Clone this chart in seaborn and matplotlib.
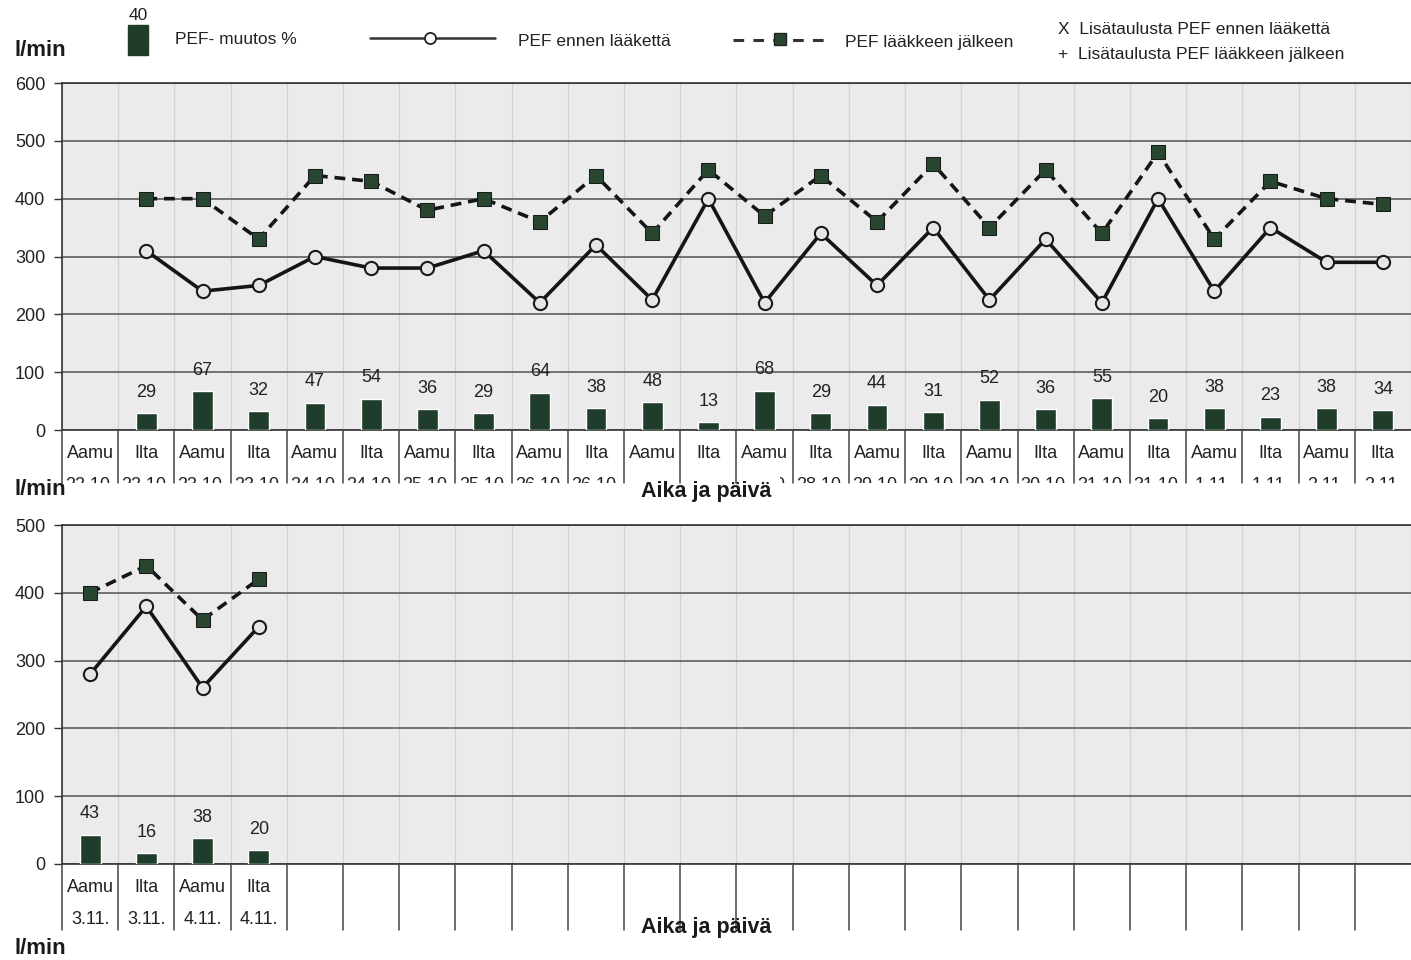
import numpy as np
import pandas as pd
import matplotlib
matplotlib.use('Agg')
import matplotlib.pyplot as plt
import matplotlib.transforms as mtransforms
from matplotlib.lines import Line2D
from matplotlib.patches import Rectangle
import seaborn as sns

# --- data ---
slot_names = ['Aamu', 'Ilta'] * 12

dates_1 = ['22.10.', '22.10.', '23.10.', '23.10.', '24.10.', '24.10.', '25.10.', '25.10.',
           '26.10.', '26.10.', '27.10.', '27.10.', '28.10.', '28.10.', '29.10.', '29.10.',
           '30.10.', '30.10.', '31.10.', '31.10.', '1.11.', '1.11.', '2.11.', '2.11.']
pef_ennen_1 = [np.nan, 310, 240, 250, 300, 280, 280, 310, 220, 320, 225, 400,
               220, 340, 250, 350, 225, 330, 220, 400, 240, 350, 290, 290]
pef_jalkeen_1 = [np.nan, 400, 400, 330, 440, 430, 380, 400, 360, 440, 340, 450,
                 370, 440, 360, 460, 350, 450, 340, 480, 330, 430, 400, 390]
muutos_1 = [np.nan, 29, 67, 32, 47, 54, 36, 29, 64, 38, 48, 13,
            68, 29, 44, 31, 52, 36, 55, 20, 38, 23, 38, 34]

dates_2 = ['3.11.', '3.11.', '4.11.', '4.11.']
pef_ennen_2 = [280, 380, 260, 350]
pef_jalkeen_2 = [400, 440, 360, 420]
muutos_2 = [43, 16, 38, 20]

N_SLOTS = 24
BAR_C = '#1f3d2a'
LINE_C = '#151515'

sns.set_theme(style='white')
plt.rcParams['font.family'] = ['Liberation Sans', 'DejaVu Sans']

W, H = 1411, 960
fig = plt.figure(figsize=(W / 100, H / 100), dpi=100)


def fx(x):
    return x / W


def fy(y):
    return 1 - y / H


def draw_panel(ax, ennen, jalkeen, muutos, dates, ymax, y_bottom, n_labels, date_clip=None):
    n = len(ennen)
    df = pd.DataFrame({'slot': np.arange(n), 'ennen': ennen,
                       'jalkeen': jalkeen, 'muutos': muutos})
    bars = df.dropna(subset=['muutos'])
    sns.barplot(data=bars, x='slot', y='muutos', order=list(range(N_SLOTS)),
                color=BAR_C, saturation=1, width=0.37, ax=ax, zorder=3)
    ax.bar_label(ax.containers[0], fmt='%d', padding=9, fontsize=13, color='#222')

    ln = df.dropna(subset=['ennen'])
    sns.lineplot(data=ln, x='slot', y='jalkeen', ax=ax, color=LINE_C, lw=2.6,
                 linestyle=(0, (3.0, 1.9)), marker='s', markersize=9.5,
                 markerfacecolor='#27452f', markeredgecolor='#1a1a1a', zorder=4)
    sns.lineplot(data=ln, x='slot', y='ennen', ax=ax, color=LINE_C, lw=2.6,
                 marker='o', markersize=9.5, markerfacecolor='#e6e6e6',
                 markeredgecolor='#1a1a1a', markeredgewidth=1.5, zorder=5)

    ax.set_xlim(-0.5, N_SLOTS - 0.5)
    ax.set_ylim(0, ymax)
    ax.set_yticks(np.arange(0, ymax + 1, 100))
    ax.set_xticks([])
    ax.set_xticks(np.arange(N_SLOTS + 1) - 0.5, minor=True)
    ax.set_xlabel('')
    ax.set_ylabel('')
    ax.set_facecolor('#ebebeb')
    ax.yaxis.grid(True, color='#5e5e5e', lw=1.2, zorder=1)
    ax.xaxis.grid(True, which='minor', color='#d2d2d2', lw=0.9, zorder=1)
    ax.set_axisbelow(True)
    ax.tick_params(axis='y', which='major', left=True, length=6, width=1,
                   color='#333', labelsize=13, labelcolor='#222', pad=6)
    ax.tick_params(axis='x', which='both', bottom=False, length=0)
    ax.spines['right'].set_visible(False)
    for s in ['left', 'top', 'bottom']:
        ax.spines[s].set_color('#333')
        ax.spines[s].set_linewidth(1.2)

    trans = mtransforms.blended_transform_factory(ax.transData, fig.transFigure)
    line_end = y_bottom + (53 if date_clip else 66)
    for i in range(N_SLOTS):
        fig.add_artist(Line2D([i - 0.5, i - 0.5], [fy(y_bottom), fy(line_end)],
                              transform=trans, color='#444', lw=1.1))
    for i in range(n_labels):
        fig.text(i, fy(y_bottom + 23), slot_names[i], transform=trans,
                 ha='center', va='center', fontsize=13, color='#222')
    for i, d in enumerate(dates):
        if date_clip and i in (10, 11):
            continue  # under the axis title, not visible on the form
        t = fig.text(i, fy(y_bottom + 56), d, transform=trans,
                     ha='center', va='center', fontsize=13, color='#222')
        if date_clip:
            x0 = fx(780) if i == 12 else 0
            box = mtransforms.TransformedBbox(
                mtransforms.Bbox([[x0, fy(date_clip)], [1, fy(y_bottom)]]), fig.transFigure)
            t.set_clip_box(box)
            t.set_clip_on(True)


ax1 = fig.add_axes([fx(62), fy(430), fx(1411) - fx(62), fy(83) - fy(430)])
draw_panel(ax1, pef_ennen_1, pef_jalkeen_1, muutos_1, dates_1, 600, 430, N_SLOTS, date_clip=483)

ax2 = fig.add_axes([fx(62), fy(864), fx(1411) - fx(62), fy(525) - fy(864)])
draw_panel(ax2, pef_ennen_2, pef_jalkeen_2, muutos_2, dates_2, 500, 864, len(dates_2))

# axis titles
for y in (50, 490, 948):
    fig.text(fx(15), fy(y), 'l/min', ha='left', va='center', fontsize=16,
             fontweight='bold', color='#1a1a1a')
for y in (492, 928):
    fig.text(fx(706), fy(y), 'Aika ja päivä', ha='center', va='center', fontsize=15.5,
             fontweight='bold', color='#1a1a1a')

# legend (hand placed like the form)
fig.add_artist(Rectangle((fx(128), fy(55)), fx(148) - fx(128), fy(25) - fy(55),
                         transform=fig.transFigure, color=BAR_C))
fig.text(fx(138), fy(16), '40', ha='center', va='center', fontsize=12.5, color='#222')
fig.text(fx(175), fy(40), 'PEF- muutos %', ha='left', va='center', fontsize=12.5, color='#222')

fig.add_artist(Line2D([fx(370), fx(495)], [fy(38), fy(38)], transform=fig.transFigure,
                      color='#333', lw=1.8))
fig.add_artist(Line2D([fx(430)], [fy(38)], transform=fig.transFigure, marker='o',
                      markersize=8, markerfacecolor='white', markeredgecolor='#222',
                      markeredgewidth=1.3, lw=0))
fig.text(fx(518), fy(41), 'PEF ennen lääkettä', ha='left', va='center', fontsize=12.5, color='#222')

fig.add_artist(Line2D([fx(733), fx(830)], [fy(40), fy(40)], transform=fig.transFigure,
                      color='#333', lw=2.2, linestyle=(0, (3.5, 3.0))))
fig.add_artist(Line2D([fx(780)], [fy(39)], transform=fig.transFigure, marker='s',
                      markersize=9, markerfacecolor='#27452f', markeredgecolor='#222',
                      lw=0))
fig.text(fx(845), fy(42), 'PEF lääkkeen jälkeen', ha='left', va='center', fontsize=12.5, color='#222')

fig.text(fx(1058), fy(30), 'X  Lisätaulusta PEF ennen lääkettä', ha='left', va='center',
         fontsize=12.5, color='#222')
fig.text(fx(1058), fy(55), '+  Lisätaulusta PEF lääkkeen jälkeen', ha='left', va='center',
         fontsize=12.5, color='#222')

fig.savefig('out.png', dpi=100, facecolor='white')
